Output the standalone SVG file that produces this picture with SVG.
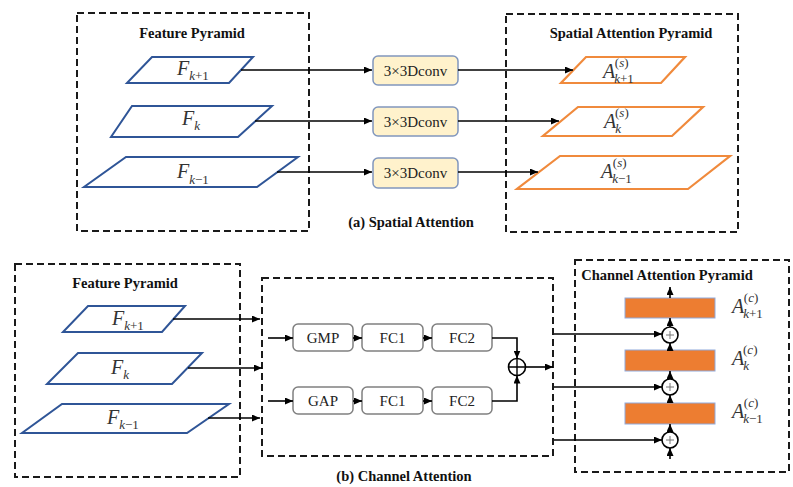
<svg xmlns="http://www.w3.org/2000/svg" width="793" height="487" viewBox="0 0 793 487" font-family="'Liberation Serif', 'Times New Roman', serif">
  <style>
    .frame { fill: none; stroke: #1a1a1a; stroke-width: 2; stroke-dasharray: 7 4; }
    text { font-family: 'Liberation Serif', 'Times New Roman', serif; }
    .title { font-weight: bold; font-size: 14.5px; fill: #111; text-anchor: middle; }
    .feat { fill: #fff; stroke: #2F5597; stroke-width: 2; }
    .att { fill: #fff; stroke: #F08A3C; stroke-width: 2.2; }
    .conv { fill: #FFF2CC; stroke: #8197BD; stroke-width: 1.5; }
    .op { fill: #fff; stroke: #808080; stroke-width: 1.5; }
    .bar { fill: #ED7D31; stroke: #8FAADC; stroke-width: 1; }
    .lbl { font-size: 15px; fill: #222; text-anchor: middle; }
    .math { font-size: 20px; fill: #333; }
    .sub { font-size: 13px; }
    .it { font-style: italic; }
    .wire { fill: none; stroke: #000; stroke-width: 1.6; }
    .sum { fill: #fff; stroke: #000; stroke-width: 1.6; }
    .plus { stroke: #777; stroke-width: 1; }
  </style>
  <defs>
    <marker id="arrow" markerUnits="userSpaceOnUse" markerWidth="8" markerHeight="7" refX="8" refY="3.5" orient="auto">
      <path d="M0,0 L8,3.5 L0,7 z" fill="#000"/>
    </marker>
  </defs>

  <!-- (a) spatial attention -->
  <g id="spatial-feature-pyramid">
    <rect class="frame" x="77" y="13" width="232" height="218"/>
    <text class="title" x="192" y="38">Feature Pyramid</text>
  </g>
  <g id="sa-Fk1">
    <polygon class="feat" points="152,57 253,57 229,83 127,83"/>
    <text class="math" x="177" y="75"><tspan class="it">F</tspan><tspan class="sub" dy="5"><tspan class="it">k</tspan>+1</tspan></text>
  </g>
  <g id="sa-Fk">
    <polygon class="feat" points="132,106 272,106 238,137 111,137"/>
    <text class="math" x="182" y="125"><tspan class="it">F</tspan><tspan class="sub it" dy="5">k</tspan></text>
  </g>
  <g id="sa-Fkm1">
    <polygon class="feat" points="126,157 298,157 257,187 84,187"/>
    <text class="math" x="177" y="178"><tspan class="it">F</tspan><tspan class="sub" dy="6"><tspan class="it">k</tspan>−1</tspan></text>
  </g>

  <g id="conv1">
    <rect class="conv" x="373" y="56" width="85" height="29" rx="5"/>
    <text class="lbl" x="415.5" y="75.5">3×3Dconv</text>
  </g>
  <g id="conv2">
    <rect class="conv" x="373" y="107" width="85" height="29" rx="5"/>
    <text class="lbl" x="415.5" y="126.5">3×3Dconv</text>
  </g>
  <g id="conv3">
    <rect class="conv" x="373" y="158" width="85" height="30" rx="5"/>
    <text class="lbl" x="415.5" y="178">3×3Dconv</text>
  </g>

  <g id="spatial-attention-pyramid">
    <rect class="frame" x="506" y="14" width="232" height="218"/>
    <text class="title" x="631" y="38">Spatial Attention Pyramid</text>
  </g>
  <g id="sa-Ak1">
    <polygon class="att" points="586,57 685,57 661,83 561,83"/>
    <text class="math" x="603" y="78"><tspan class="it">A</tspan><tspan class="sub" dx="-1" dy="5"><tspan class="it">k</tspan>+1</tspan><tspan class="sub" dx="-19" dy="-16">(<tspan class="it">s</tspan>)</tspan></text>
  </g>
  <g id="sa-Ak">
    <polygon class="att" points="578,107 703,107 672,136 543,136"/>
    <text class="math" x="604" y="128"><tspan class="it">A</tspan><tspan class="sub it" dx="-1" dy="5">k</tspan><tspan class="sub" dx="-6" dy="-16">(<tspan class="it">s</tspan>)</tspan></text>
  </g>
  <g id="sa-Akm1">
    <polygon class="att" points="560,156 730,156 688,189 517,189"/>
    <text class="math" x="601" y="178"><tspan class="it">A</tspan><tspan class="sub" dx="-1" dy="5"><tspan class="it">k</tspan>−1</tspan><tspan class="sub" dx="-19" dy="-16">(<tspan class="it">s</tspan>)</tspan></text>
  </g>

  <text id="caption-a" class="title" x="411" y="227">(a) Spatial Attention</text>

  <!-- (b) channel attention -->
  <g id="channel-feature-pyramid">
    <rect class="frame" x="15" y="264" width="225" height="213"/>
    <text class="title" x="125" y="288">Feature Pyramid</text>
  </g>
  <g id="ca-Fk1">
    <polygon class="feat" points="88,306 185,306 162,332 63,332"/>
    <text class="math" x="112" y="325"><tspan class="it">F</tspan><tspan class="sub" dy="5"><tspan class="it">k</tspan>+1</tspan></text>
  </g>
  <g id="ca-Fk">
    <polygon class="feat" points="78,353 202,353 172,384 47,384"/>
    <text class="math" x="111" y="374"><tspan class="it">F</tspan><tspan class="sub it" dy="5">k</tspan></text>
  </g>
  <g id="ca-Fkm1">
    <polygon class="feat" points="62,404 229,404 187,433 22,433"/>
    <text class="math" x="107" y="424"><tspan class="it">F</tspan><tspan class="sub" dy="5"><tspan class="it">k</tspan>−1</tspan></text>
  </g>

  <g id="channel-attention-module">
    <rect class="frame" x="262" y="278" width="291" height="178"/>
  </g>
  <g id="gmp">
    <rect class="op" x="293" y="324" width="60" height="27" rx="5"/>
    <text class="lbl" x="323" y="343">GMP</text>
  </g>
  <g id="fc1-top">
    <rect class="op" x="362" y="324" width="61" height="27" rx="5"/>
    <text class="lbl" x="392.5" y="343">FC1</text>
  </g>
  <g id="fc2-top">
    <rect class="op" x="432" y="324" width="60" height="27" rx="5"/>
    <text class="lbl" x="462" y="343">FC2</text>
  </g>
  <g id="gap">
    <rect class="op" x="293" y="387" width="60" height="27" rx="5"/>
    <text class="lbl" x="323" y="406">GAP</text>
  </g>
  <g id="fc1-bottom">
    <rect class="op" x="362" y="387" width="61" height="27" rx="5"/>
    <text class="lbl" x="392.5" y="406">FC1</text>
  </g>
  <g id="fc2-bottom">
    <rect class="op" x="432" y="387" width="60" height="27" rx="5"/>
    <text class="lbl" x="462" y="406">FC2</text>
  </g>
  <g id="merge-sum">
    <circle class="sum" cx="517" cy="367" r="8.5"/>
    <path d="M508.5,367 H525.5 M517,358.5 V375.5" stroke="#000" stroke-width="1.4"/>
  </g>

  <text id="caption-b" class="title" x="404" y="481">(b) Channel Attention</text>

  <g id="channel-attention-pyramid">
    <rect class="frame" x="575" y="260" width="214" height="212"/>
    <text class="title" x="667" y="280">Channel Attention Pyramid</text>
  </g>
  <g id="ca-A1">
    <rect class="bar" x="625" y="298" width="90" height="20"/>
    <text class="math" x="732" y="313"><tspan class="it">A</tspan><tspan class="sub" dx="-1" dy="5"><tspan class="it">k</tspan>+1</tspan><tspan class="sub" dx="-19" dy="-16">(<tspan class="it">c</tspan>)</tspan></text>
  </g>
  <g id="ca-A2">
    <rect class="bar" x="625" y="350" width="90" height="21"/>
    <text class="math" x="732" y="365"><tspan class="it">A</tspan><tspan class="sub it" dx="-1" dy="5">k</tspan><tspan class="sub" dx="-6" dy="-16">(<tspan class="it">c</tspan>)</tspan></text>
  </g>
  <g id="ca-A3">
    <rect class="bar" x="625" y="403" width="90" height="21"/>
    <text class="math" x="732" y="418"><tspan class="it">A</tspan><tspan class="sub" dx="-1" dy="5"><tspan class="it">k</tspan>−1</tspan><tspan class="sub" dx="-19" dy="-16">(<tspan class="it">c</tspan>)</tspan></text>
  </g>
  <g id="add1">
    <circle class="sum" cx="670" cy="335" r="8"/>
    <path class="plus" d="M666,335 H674 M670,331 V339"/>
  </g>
  <g id="add2">
    <circle class="sum" cx="670" cy="387" r="8"/>
    <path class="plus" d="M666,387 H674 M670,383 V391"/>
  </g>
  <g id="add3">
    <circle class="sum" cx="670" cy="440" r="8"/>
    <path class="plus" d="M666,440 H674 M670,436 V444"/>
  </g>

  <g id="connectors">
    <!-- spatial branch -->
    <path class="wire" d="M241,70 H372" marker-end="url(#arrow)"/>
    <path class="wire" d="M255,121 H372" marker-end="url(#arrow)"/>
    <path class="wire" d="M277,172 H372" marker-end="url(#arrow)"/>
    <path class="wire" d="M458,70 H573" marker-end="url(#arrow)"/>
    <path class="wire" d="M458,121 H559" marker-end="url(#arrow)"/>
    <path class="wire" d="M458,172 H538" marker-end="url(#arrow)"/>
    <!-- channel branch inputs -->
    <path class="wire" d="M173,319 H260" marker-end="url(#arrow)"/>
    <path class="wire" d="M188,368 H262" marker-end="url(#arrow)"/>
    <path class="wire" d="M208,418 H260" marker-end="url(#arrow)"/>
    <path class="wire" d="M268,338 H293" marker-end="url(#arrow)"/>
    <path class="wire" d="M268,401 H293" marker-end="url(#arrow)"/>
    <path class="wire" d="M353,338 H362" marker-end="url(#arrow)"/>
    <path class="wire" d="M423,338 H432" marker-end="url(#arrow)"/>
    <path class="wire" d="M353,401 H362" marker-end="url(#arrow)"/>
    <path class="wire" d="M423,401 H432" marker-end="url(#arrow)"/>
    <path class="wire" d="M492,338 H517 V358.5" marker-end="url(#arrow)"/>
    <path class="wire" d="M492,401 H517 V375.5" marker-end="url(#arrow)"/>
    <path class="wire" d="M525.5,367 H553" marker-end="url(#arrow)"/>
    <!-- pyramid fusion -->
    <path class="wire" d="M554,334 H662" marker-end="url(#arrow)"/>
    <path class="wire" d="M554,387 H662" marker-end="url(#arrow)"/>
    <path class="wire" d="M554,440 H662" marker-end="url(#arrow)"/>
    <path class="wire" d="M670,459 V448" marker-end="url(#arrow)"/>
    <path class="wire" d="M670,432 V424" marker-end="url(#arrow)"/>
    <path class="wire" d="M670,403 V395" marker-end="url(#arrow)"/>
    <path class="wire" d="M670,379 V371" marker-end="url(#arrow)"/>
    <path class="wire" d="M670,350 V343" marker-end="url(#arrow)"/>
    <path class="wire" d="M670,327 V318" marker-end="url(#arrow)"/>
    <path class="wire" d="M670,298 V287" marker-end="url(#arrow)"/>
  </g>
</svg>
